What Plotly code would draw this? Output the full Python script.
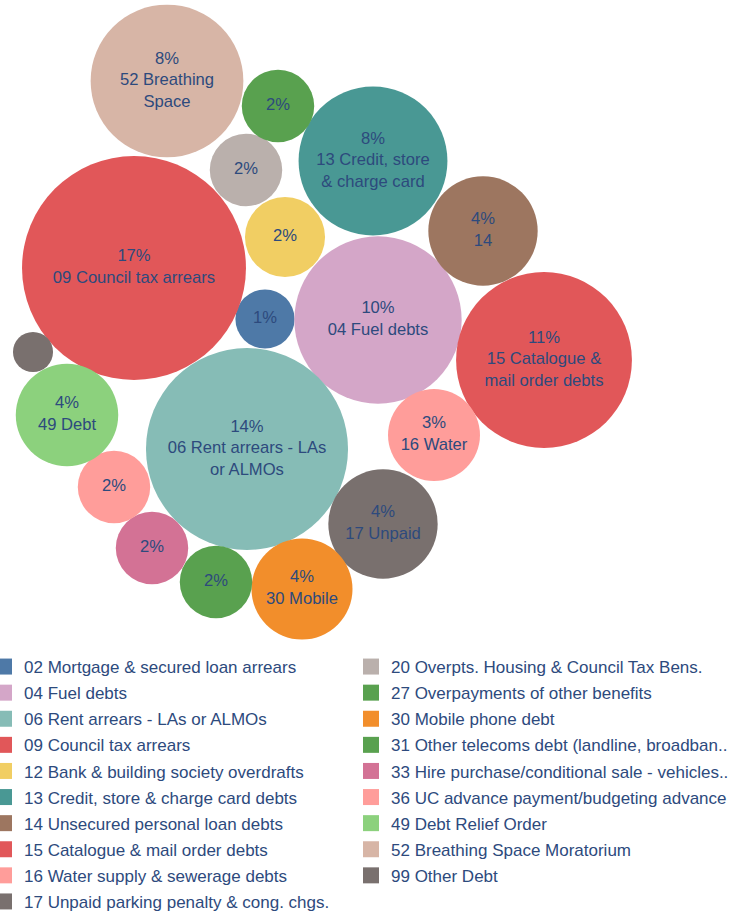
import plotly.graph_objects as go
import math

# ---- data ----
codes = ["02", "04", "06", "09", "12", "13", "14", "15", "16", "17",
         "20", "27", "30", "31", "33", "36", "49", "52", "99"]
legend_names = [
    "02 Mortgage & secured loan arrears",
    "04 Fuel debts",
    "06 Rent arrears - LAs or ALMOs",
    "09 Council tax arrears",
    "12 Bank & building society overdrafts",
    "13 Credit, store & charge card debts",
    "14 Unsecured personal loan debts",
    "15 Catalogue & mail order debts",
    "16 Water supply & sewerage debts",
    "17 Unpaid parking penalty & cong. chgs.",
    "20 Overpts. Housing & Council Tax Bens.",
    "27 Overpayments of other benefits",
    "30 Mobile phone debt",
    "31 Other telecoms debt (landline, broadban..",
    "33 Hire purchase/conditional sale - vehicles..",
    "36 UC advance payment/budgeting advance",
    "49 Debt Relief Order",
    "52 Breathing Space Moratorium",
    "99 Other Debt",
]
bubble_labels = [
    "", "04 Fuel debts", "06 Rent arrears - LAs<br>or ALMOs", "09 Council tax arrears",
    "", "13 Credit, store<br>& charge card", "14", "15 Catalogue &<br>mail order debts",
    "16 Water", "17 Unpaid", "", "", "30 Mobile", "", "", "", "49 Debt",
    "52 Breathing<br>Space", "",
]
share_pct = [1.2, 9.6, 14.0, 17.2, 2.2, 7.6, 4.1, 10.6, 2.9, 4.1,
             1.8, 1.8, 3.5, 1.8, 1.8, 1.8, 3.6, 8.0, 0.55]

# ---- layout / style (positions of the packed bubbles, pixels) ----
centers_x = [265, 378, 247, 134, 285, 373, 483, 544, 434, 383,
             246, 278, 302, 216, 152, 114, 67, 167, 33]
centers_y = [319, 320, 449, 268, 237, 161, 231, 360, 435, 524,
             170, 106, 589, 582, 548, 487, 415, 81, 352]
colors = ["#4e79a7", "#d4a6c8", "#86bcb6", "#e15759", "#f1ce63", "#499894",
          "#9d7660", "#e15759", "#ff9d9a", "#79706e", "#bab0ac", "#59a14f",
          "#f28e2b", "#59a14f", "#d37295", "#ff9d9a", "#8cd17d", "#d7b5a6",
          "#79706e"]
K = 27.0  # px radius per sqrt(percent)
TEXT_COLOR = "#2d4a7d"
FONT = "Liberation Sans, Arial, sans-serif"
W, H = 729, 918

fig = go.Figure()

texts = []
for v, lab in zip(share_pct, bubble_labels):
    if v < 1:
        texts.append("")
    else:
        pct = f"{v:.0f}%"
        texts.append(pct + ("<br>" + lab if lab else ""))

fig.add_trace(go.Scatter(
    x=centers_x, y=centers_y,
    mode="markers+text",
    marker=dict(size=[2 * K * math.sqrt(v) for v in share_pct], sizemode="diameter",
                color=colors, opacity=1, line=dict(width=0)),
    text=texts, textposition="middle center",
    textfont=dict(color=TEXT_COLOR, size=16.6, family=FONT),
    hoverinfo="skip", showlegend=False,
))

# legend-only traces (two columns)
for i, (name, col) in enumerate(zip(legend_names, colors)):
    fig.add_trace(go.Scatter(
        x=[None], y=[None], mode="markers", name=name,
        marker=dict(symbol="square", size=16, color=col),
        legendgroup=name,
        legend="legend" if i < 10 else "legend2",
    ))

leg_common = dict(font=dict(size=17, color=TEXT_COLOR, family=FONT),
                  bgcolor="rgba(0,0,0,0)", itemwidth=30, tracegroupgap=1.0,
                  yanchor="top", xanchor="left", orientation="v")
fig.update_layout(
    width=W, height=H,
    margin=dict(l=0, r=0, t=0, b=0, autoexpand=False),
    paper_bgcolor="white", plot_bgcolor="white",
    xaxis=dict(range=[0, W], visible=False, fixedrange=True),
    yaxis=dict(range=[H, 0], visible=False, fixedrange=True),
    legend=dict(x=-16 / W, y=1 - 649 / H, **leg_common),
    legend2=dict(x=(391 - 40) / W, y=1 - 649 / H, **leg_common),
    showlegend=True,
)

fig.write_html("out.html")
